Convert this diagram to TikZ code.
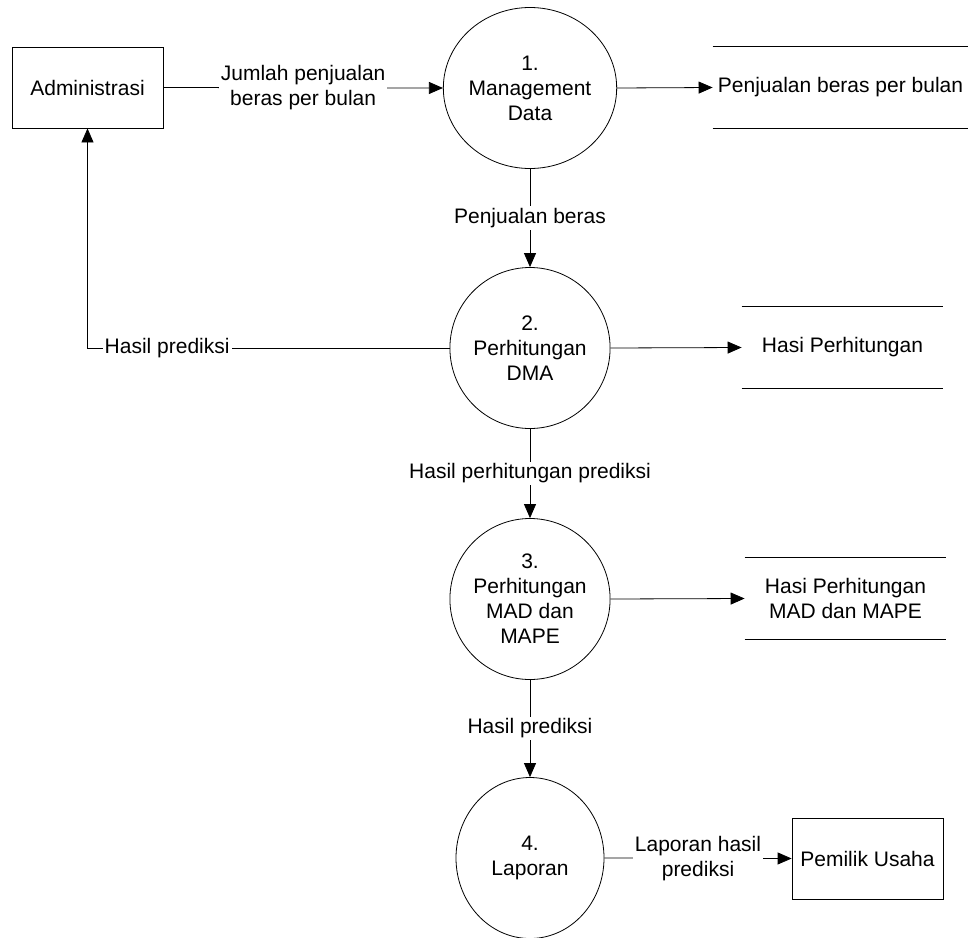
\documentclass[tikz,border=0pt]{standalone}
\usepackage{fontspec}
\setmainfont{Liberation Sans}
\usetikzlibrary{arrows.meta,shapes.geometric}

\tikzset{
  proc/.style={draw, ellipse, minimum width=148pt, minimum height=161pt, inner sep=0pt, align=center},
  entity/.style={draw, rectangle, minimum width=151pt, minimum height=81pt, align=center},
  store/.style={rectangle, minimum height=81pt, inner sep=0pt, align=center},
  flow/.style={line width=0.8pt, -{Triangle[length=14pt,width=12pt]}},
  lbl/.style={fill=white, inner sep=2pt, align=center}
}

\begin{document}
\begin{tikzpicture}[x=1pt,y=1pt,yscale=-1,xscale=1,line width=0.8pt,
    every node/.style={font=\fontsize{21}{25}\selectfont}]
        \useasboundingbox (0,0) rectangle (968,937);

        %Shape: Rectangle [Administrasi]
        \node [entity] (admin) at (87.5,87.5) {Administrasi};
        %Shape: Rectangle [Pemilik Usaha]
        \node [entity] (owner) at (867.5,858.5) {Pemilik Usaha};

        %Shape: Ellipse [processes]
        \node [proc] (p1) at (530,88) {1.\\Management\\Data};
        \node [proc] (p2) at (530,348) {2.\\Perhitungan\\DMA};
        \node [proc] (p3) at (530,599) {3.\\Perhitungan\\MAD dan\\MAPE};
        \node [proc] (p4) at (530,858) {4.\\Laporan};

        %Shape: Data stores
        \node [store, minimum width=255pt] (ds1) at (840.5,87.5) {Penjualan beras per bulan};
        \node [store, minimum width=201pt] (ds2) at (842.5,347.5) {Hasi Perhitungan};
        \node [store, minimum width=201pt] (ds3) at (845.5,598.5) {Hasi Perhitungan\\MAD dan MAPE};
        \draw (ds1.north west) -- (ds1.north east) (ds1.south west) -- (ds1.south east);
        \draw (ds2.north west) -- (ds2.north east) (ds2.south west) -- (ds2.south east);
        \draw (ds3.north west) -- (ds3.north east) (ds3.south west) -- (ds3.south east);

        %Straight Lines [flows]
        \draw [flow] (admin.east) -- node [lbl] {Jumlah penjualan\\beras per bulan} (p1.west);
        \draw [flow] (p1.east) -- (ds1.west);
        \draw [flow] (p1.south) -- node [lbl] {Penjualan beras} (p2.north);
        \draw [flow] (p2.west) -| node [lbl, pos=0.39] {Hasil prediksi} (admin.south);
        \draw [flow] (p2.east) -- (ds2.west);
        \draw [flow] (p2.south) -- node [lbl] {Hasil perhitungan prediksi} (p3.north);
        \draw [flow] (p3.east) -- (ds3.west);
        \draw [flow] (p3.south) -- node [lbl] {Hasil prediksi} (p4.north);
        \draw [flow] (p4.east) -- node [lbl] {Laporan hasil\\prediksi} (owner.west);

\end{tikzpicture}
\end{document}
